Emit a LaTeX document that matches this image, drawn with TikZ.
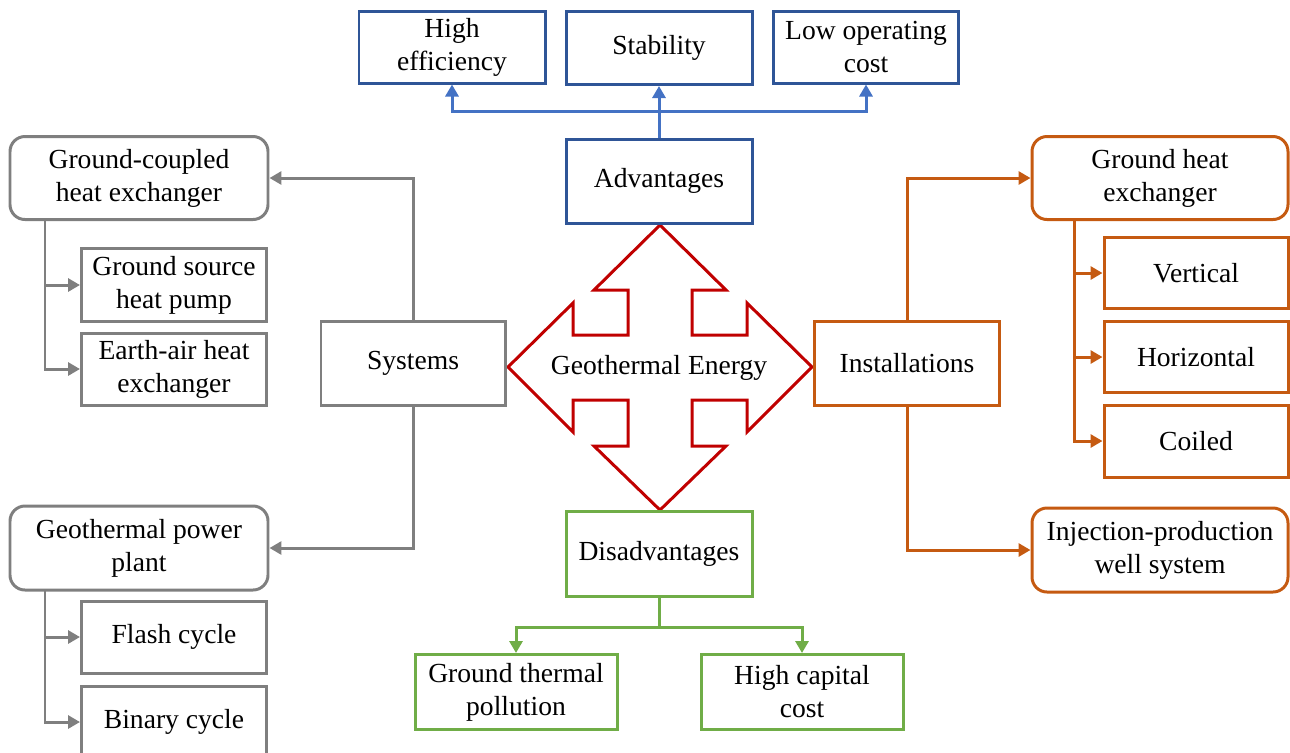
\documentclass[tikz,border=0pt]{standalone}
\usepackage{fontspec}
\setmainfont{Liberation Serif}
\usetikzlibrary{arrows.meta}
\definecolor{cblue}{HTML}{2F5597}
\definecolor{lblue}{HTML}{4472C4}
\definecolor{cgray}{HTML}{7F7F7F}
\definecolor{corange}{HTML}{C55A11}
\definecolor{cgreen}{HTML}{70AD47}
\definecolor{cred}{HTML}{C00000}
\tikzset{
  base/.style={draw, line width=1.7pt, align=center, inner sep=0pt, font=\fontsize{15.7pt}{18.8pt}\selectfont, text=black, fill=white},
  bw/.style={minimum width=#1*0.02cm},
  bh/.style={minimum height=#1*0.02cm},
  bluebox/.style={base, draw=cblue},
  graybox/.style={base, draw=cgray},
  orbox/.style={base, draw=corange},
  grbox/.style={base, draw=cgreen},
  rnd/.style={rounded corners=0.3cm},
  conn/.style={line width=1.7pt, -{Triangle[length=0.24cm,width=0.26cm]}},
  plain/.style={line width=1.7pt},
}
\begin{document}
\begin{tikzpicture}[x=0.02cm,y=-0.02cm]
\useasboundingbox (0,0) rectangle (1290,752);
% center cross arrow
\draw[cred, line width=1.7pt, line join=miter] (660,225) -- (726,290) -- (692,290) -- (692,335) -- (747,335) -- (747,303) -- (812,367) -- (747,432) -- (747,400) -- (692,400) -- (692,446) -- (726,446) -- (660,510) -- (594,446) -- (628,446) -- (628,400) -- (573,400) -- (573,432) -- (508,367) -- (573,303) -- (573,335) -- (628,335) -- (628,290) -- (594,290) -- cycle;
\node[font=\fontsize{15.7pt}{18.8pt}\selectfont] (geo) at (659,368) {Geothermal Energy};
% advantages
\node[bluebox, bw=186, bh=72] (he) at (452,47) {High\\efficiency};
\node[bluebox, bw=186, bh=73] (st) at (659,48) {Stability};
\node[bluebox, bw=185, bh=72] (lo) at (866,47) {Low operating\\cost};
\node[bluebox, bw=186, bh=84] (adv) at (659,181) {Advantages};
\coordinate (aj) at (659,111);
\draw[lblue, plain] (adv.north) -- (aj);
\draw[lblue, conn] (aj) -- (st.south);
\draw[lblue, conn] (aj) -| (he.south);
\draw[lblue, conn] (aj) -| (lo.south);
% disadvantages
\node[grbox, bw=186, bh=85] (dis) at (659,554) {Disadvantages};
\node[grbox, bw=202, bh=75] (gtp) at (516,692) {Ground thermal\\pollution};
\node[grbox, bw=202, bh=75] (hcc) at (802,692) {High capital\\cost};
\coordinate (dj) at (659,627);
\draw[cgreen, plain] (dis.south) -- (dj);
\draw[cgreen, conn] (dj) -| (gtp.north);
\draw[cgreen, conn] (dj) -| (hcc.north);
% systems
\node[graybox, bw=184, bh=84] (sys) at (413,363) {Systems};
\node[graybox, rnd, bw=258, bh=83] (gche) at (139,178) {Ground-coupled\\heat exchanger};
\node[graybox, bw=185, bh=73] (gshp) at (174,285) {Ground source\\heat pump};
\node[graybox, bw=185, bh=72] (eahe) at (174,369) {Earth-air heat\\exchanger};
\node[graybox, rnd, bw=258, bh=84] (gpp) at (139,548) {Geothermal power\\plant};
\node[graybox, bw=185, bh=72] (fc) at (174,637) {Flash cycle};
\node[graybox, bw=185, bh=72] (bc) at (174,722) {Binary cycle};
\draw[cgray, conn] (sys.north) |- (gche.east);
\draw[cgray, conn] (sys.south) |- (gpp.east);
\coordinate (g1) at (45,220);
\coordinate (g2) at (45,590);
\draw[cgray, conn] (g1) |- (gshp.west);
\draw[cgray, conn] (g1) |- (eahe.west);
\draw[cgray, conn] (g2) |- (fc.west);
\draw[cgray, conn] (g2) |- (bc.west);
% installations
\node[orbox, bw=185, bh=84] (ins) at (907,363) {Installations};
\node[orbox, rnd, bw=256, bh=83] (ghe) at (1160,178) {Ground heat\\exchanger};
\node[orbox, bw=184, bh=71] (ver) at (1196,273) {Vertical};
\node[orbox, bw=184, bh=71] (hor) at (1196,357) {Horizontal};
\node[orbox, bw=184, bh=72] (coi) at (1196,441) {Coiled};
\node[orbox, rnd, bw=256, bh=84] (ipw) at (1160,550) {Injection-production\\well system};
\draw[corange, conn] (ins.north) |- (ghe.west);
\draw[corange, conn] (ins.south) |- (ipw.west);
\coordinate (o1) at (1074,220);
\draw[corange, conn] (o1) |- (ver.west);
\draw[corange, conn] (o1) |- (hor.west);
\draw[corange, conn] (o1) |- (coi.west);
\end{tikzpicture}
\end{document}
